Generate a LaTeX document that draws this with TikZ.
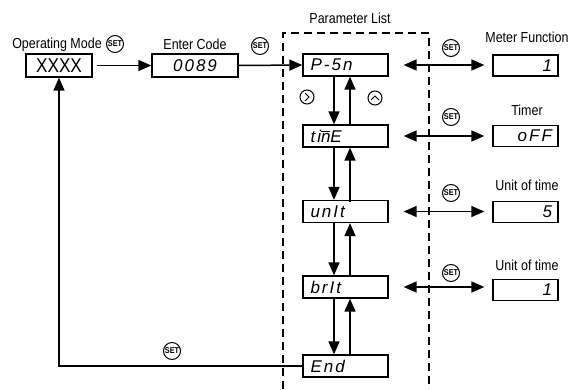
\documentclass[tikz,border=0pt]{standalone}
\usepackage{fontspec}
\setmainfont[FakeStretch=0.86]{Liberation Sans}
\newfontfamily\lcdfam[LetterSpace=12]{Liberation Sans}
\usetikzlibrary{arrows.meta}
\begin{document}
\begin{tikzpicture}[x=1pt,y=-1pt,
  >={Triangle[length=13pt,width=11pt]},
  line width=1.5pt,
  lbl/.style={font=\fontsize{14.5}{16}\selectfont, inner sep=0},
  box/.style={draw, line width=1.3pt, minimum height=22pt, inner sep=0},
  setbtn/.style={draw, circle, line width=1pt, minimum size=17pt, inner sep=0,
    font=\fontsize{8.5}{9}\selectfont\bfseries},
  lcdbox/.style={box, minimum width=85pt, text width=70pt, inner xsep=7.5pt,
    align=left, font=\lcdfam\itshape\fontsize{17}{17}\selectfont},
  valbox/.style={box, minimum width=65pt, minimum height=21pt, text width=53pt,
    inner xsep=6pt, align=right, font=\lcdfam\itshape\fontsize{17}{17}\selectfont},
  nav/.style={draw, circle, line width=1pt, minimum size=14pt, inner sep=0},
  dbox/.style={line width=1.6pt, dash pattern=on 8pt off 5pt}
]
\useasboundingbox (0,0) rectangle (573,389);

% left part
\node[lbl] (opl) at (57,45) {Operating Mode};
\node[setbtn] (s1) at (115,44) {SET};
\node[box, minimum width=66pt, minimum height=23pt, font=\fontsize{20}{20}\selectfont] (xxxx) at (59,65.5) {XXXX};
\node[lbl] (ecl) at (195,44) {Enter Code};
\node[setbtn] (s2) at (260,46) {SET};
\node[box, minimum width=86pt, minimum height=23pt, font=\lcdfam\itshape\fontsize{17}{17}\selectfont] (code) at (195,65.5) {0089};

% parameter list frame
\node[lbl] (pll) at (350,18) {Parameter List};
\draw[dbox] (283,389) -- (283,33) -- (429,33) -- (429,389);

% parameter boxes
\node[lcdbox] (p1) at (345.5,65) {P-5n};
\node[lcdbox] (p2) at (345.5,136) {ti\(\overline{\hbox{n}}\)E};
\node[lcdbox] (p3) at (345.5,211.5) {unIt};
\node[lcdbox] (p4) at (345.5,287) {brIt};
\node[lcdbox] (p5) at (345.5,366) {End};

% navigation icons
\node[nav] (nr) at (307,97) {};
\draw[line width=1pt] ([xshift=-2pt,yshift=4pt]nr.center) -- ([xshift=2pt]nr.center) -- ([xshift=-2pt,yshift=-4pt]nr.center);
\node[nav] (nu) at (375,98) {};
\draw[line width=1pt] ([xshift=-4pt,yshift=-2pt]nu.center) -- ([yshift=2pt]nu.center) -- ([xshift=4pt,yshift=-2pt]nu.center);

% right labels and values
\node[lbl] (l1) at (527,37) {Meter Function};
\node[lbl] (l2) at (527,110) {Timer};
\node[lbl] (l3) at (527,185) {Unit of time};
\node[lbl] (l4) at (527,265) {Unit of time};
\node[valbox] (v1) at (525.5,65.5) {1};
\node[valbox] (v2) at (525.5,136) {oFF};
\node[valbox] (v3) at (525.5,212) {5};
\node[valbox] (v4) at (525.5,290) {1};
\node[setbtn] (r1) at (451,48) {SET};
\node[setbtn] (r2) at (451,117) {SET};
\node[setbtn] (r3) at (451,193) {SET};
\node[setbtn] (r4) at (451,273) {SET};
\node[setbtn] (s3) at (172,351) {SET};

% connectors
\draw[->] ([xshift=4pt]xxxx.east) -- (code.west);
\draw[->] (code.east) -- (p1.west);
\foreach \a/\b in {p1/p2,p2/p3,p3/p4,p4/p5}{
  \draw[->] ([xshift=-11.5pt]\a.south) -- ([xshift=-11.5pt]\b.north);
  \draw[->] ([xshift=4.5pt,yshift=-2pt]\b.north) -- ([xshift=4.5pt]\a.south);
}
\foreach \a/\b in {p1/v1,p2/v2,p3/v3,p4/v4}{
  \draw[<->, shorten <=15pt, shorten >=8pt] (\a.east) -- (\a.east -| \b.west);
}
\draw[->] (p5.west) -| (xxxx.south);
\end{tikzpicture}
\end{document}
